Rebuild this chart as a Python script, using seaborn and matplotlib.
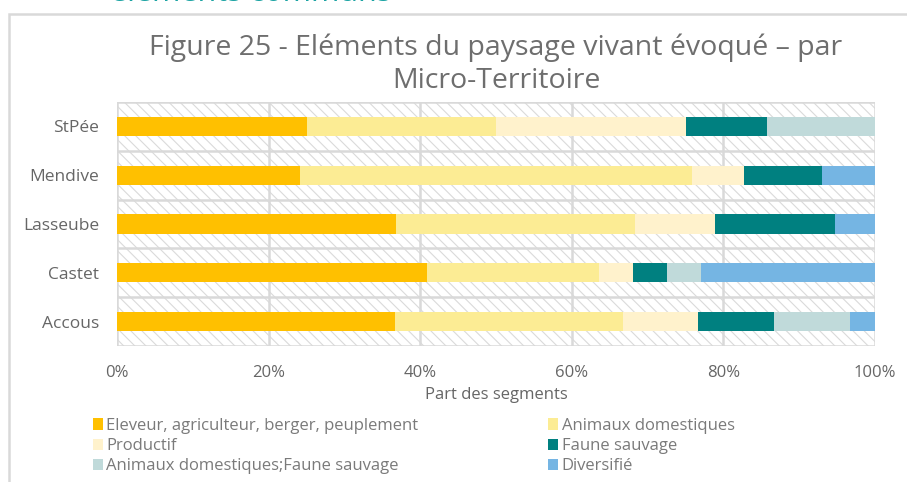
import numpy as np
import pandas as pd
import matplotlib
matplotlib.use('Agg')
import matplotlib.pyplot as plt
import seaborn as sns
from matplotlib.patches import Rectangle


################################################################################
#
# Data
#
################################################################################

territoires = ['StPée', 'Mendive', 'Lasseube', 'Castet', 'Accous']

series_names = ['Eleveur, agriculteur, berger, peuplement',
                'Animaux domestiques',
                'Productif',
                'Faune sauvage',
                'Animaux domestiques;Faune sauvage',
                'Diversifié']

eleveur      = [25.0, 24.1, 36.8, 40.9, 36.7]
domestiques  = [25.0, 51.7, 31.6, 22.7, 30.0]
productif    = [25.0,  6.9, 10.5,  4.5, 10.0]
faune        = [10.7, 10.3, 15.8,  4.5, 10.0]
dom_faune    = [14.3,  0.0,  0.0,  4.5, 10.0]
diversifie   = [ 0.0,  7.0,  5.3, 22.9,  3.3]

colors = ['#FFC000', '#FCEC94', '#FFF2CC', '#008080', '#C0DADA', '#75B5E3']

xticks = [0, 20, 40, 60, 80, 100]
xtick_labels = ['0%', '20%', '40%', '60%', '80%', '100%']


################################################################################
#
# Plot
#
################################################################################

def main():
    sns.set_style('white')
    plt.rcParams['font.family'] = ['Open Sans', 'DejaVu Sans']
    plt.rcParams['hatch.linewidth'] = 0.8
    plt.rcParams['hatch.color'] = '#DADADA'

    text_col = '#666666'
    grid_col = '#D9D9D9'

    df = pd.DataFrame({'territoire': territoires,
                       series_names[0]: eleveur,
                       series_names[1]: domestiques,
                       series_names[2]: productif,
                       series_names[3]: faune,
                       series_names[4]: dom_faune,
                       series_names[5]: diversifie})
    cum = df[series_names].cumsum(axis=1)

    fig = plt.figure(figsize=(9.07, 4.82), dpi=100)
    ax = fig.add_axes([117/907, 1-346/482, 758/907, 244/482])

    # hatched background
    ax.add_patch(Rectangle((0, 0), 1, 1, transform=ax.transAxes, facecolor='white',
                           edgecolor='#DADADA', hatch='\\\\\\', lw=0, zorder=0))

    # stacked bars: draw cumulative totals from the last series backwards
    for name, col in reversed(list(zip(series_names, colors))):
        sns.barplot(x=cum[name], y=df.territoire, color=col, orient='h',
                    width=0.39, ax=ax, zorder=3, label=name, saturation=1,
                    linewidth=0)
    handles, labels = ax.get_legend_handles_labels()
    if ax.get_legend() is not None:
        ax.get_legend().remove()

    ax.set_xlim(0, 100)
    ax.set_ylim(4.5, -0.5)
    for x in xticks:
        ax.axvline(x, color=grid_col, lw=1.8, zorder=1)
    for y in np.arange(-0.5, 5.0, 1.0):
        ax.axhline(y, color=grid_col, lw=1.8, zorder=1)
    for s in ax.spines.values():
        s.set_visible(False)

    ax.set_xticks(xticks)
    ax.set_xticklabels(xtick_labels)
    ax.tick_params(axis='x', length=0, pad=14, labelsize=12, labelcolor=text_col)
    ax.tick_params(axis='y', length=0, pad=13, labelsize=12.5, labelcolor=text_col)
    ax.set_ylabel('')
    ax.set_xlabel('Part des segments', fontsize=12, color=text_col, labelpad=4)

    ax.set_title('Figure 25 - Eléments du paysage vivant évoqué – par\nMicro-Territoire',
                 fontsize=20.5, color='#6E6E6E', pad=10, linespacing=1.25)

    # legend filled row by row, as in the original
    order = [labels.index(n) for n in series_names]
    order = [order[i] for i in (0, 2, 4, 1, 3, 5)]
    leg = fig.legend([handles[i] for i in order], [labels[i] for i in order],
                     ncol=2, loc='upper left', bbox_to_anchor=(78/907, 1-403/482),
                     frameon=False, fontsize=12, handlelength=0.6,
                     handleheight=0.7, handletextpad=0.2, columnspacing=7.8,
                     labelspacing=0.25, labelcolor='#7A7A7A')

    # outer frame of the chart block
    fig.patches.append(Rectangle((9/907, -0.1), 1.2, 1.1 - 14/482,
                                 transform=fig.transFigure, fill=False,
                                 edgecolor=grid_col, lw=1.8))
    fig.text(110/907, 1 - 1/482, 'éléments communs', color='#1BA3A3',
             fontsize=22, va='baseline', ha='left')

    fig.savefig('out.png', dpi=100)


if __name__ == "__main__":
    main()
